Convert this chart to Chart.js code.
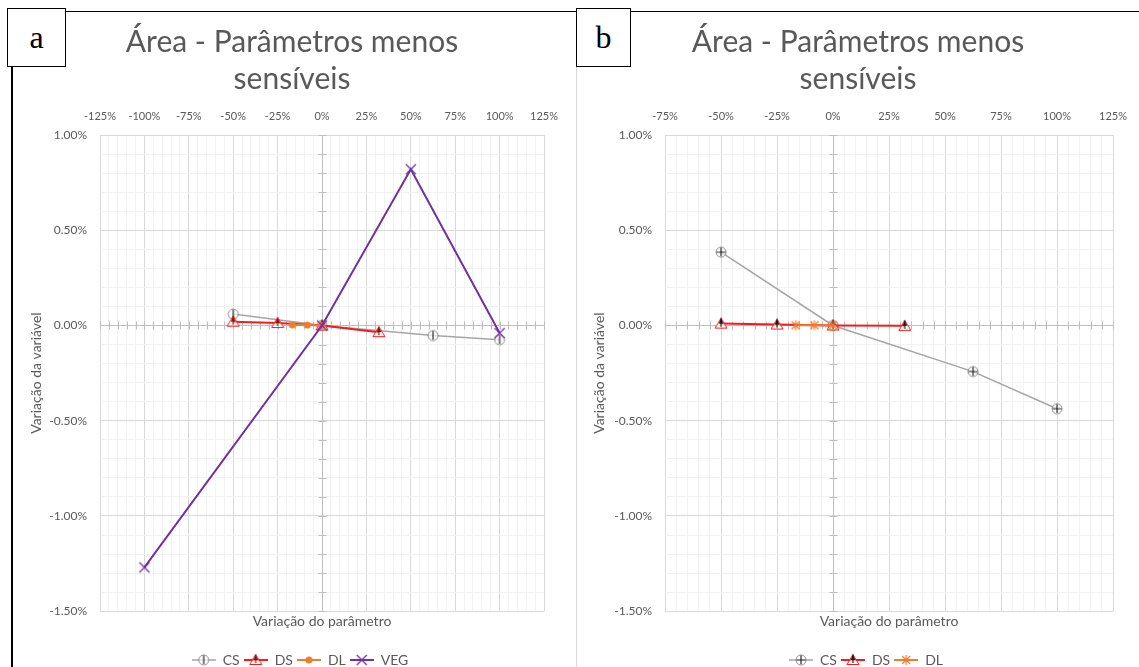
<!DOCTYPE html>
<html>
<head>
<meta charset="utf-8">
<script src="https://cdn.jsdelivr.net/npm/chart.js@4.4.1/dist/chart.umd.min.js"></script>
<style>
  body { margin: 0; background: #fff; width: 1139px; height: 667px; position: relative; overflow: hidden; }
  .wrap { position: absolute; top: 14px; height: 663px; }
  #wrapA { left: 15px; width: 555px; }
  #wrapB { left: 533px; width: 606px; }
  .rule { position: absolute; }
  .tag { position: absolute; top: 8px; height: 59px; background: #fff; border: 1.5px solid #000;
         font-family: 'Liberation Serif', 'DejaVu Serif', serif; font-size: 32px; color: #000;
         display: flex; align-items: center; justify-content: center; z-index: 5; box-sizing: border-box; }
</style>
</head>
<body>
<div class="rule" style="left:60px;top:11px;width:1079px;border-top:1.5px solid #000"></div>
<div class="rule" style="left:11px;top:66px;height:601px;border-left:2px solid #000"></div>
<div class="rule" style="left:576px;top:66px;height:601px;border-left:1px solid #d9d9d9"></div>
<div class="wrap" id="wrapA"><canvas id="chartA"></canvas></div>
<div class="wrap" id="wrapB"><canvas id="chartB"></canvas></div>
<div class="tag" style="left:7px;width:59px;">a</div>
<div class="tag" style="left:576px;width:55px;">b</div>
<script>
// --- data (percent units) ---
const chartTitle = ['Área - Parâmetros menos', 'sensíveis'];
const xAxisTitle = 'Variação do parâmetro';
const yAxisTitle = 'Variação da variável';

// panel a
const csA_x = [-50, 0, 62.5, 100];
const csA_y = [0.06, 0, -0.053, -0.075];
const dsA_x = [-50, -25, 0, 32];
const dsA_y = [0.02, 0.013, 0, -0.035];
const dlA_x = [-16.7, -8.3, 0];
const dlA_y = [0.003, 0.002, 0];
const vegA_x = [-100, 0, 50, 100];
const vegA_y = [-1.27, 0, 0.82, -0.04];

// panel b
const csB_x = [-50, 0, 62.5, 100];
const csB_y = [0.385, 0, -0.242, -0.437];
const dsB_x = [-50, -25, 0, 32];
const dsB_y = [0.01, 0.005, 0, -0.002];
const dlB_x = [-16.7, -8.3, 0];
const dlB_y = [0.001, 0.001, 0];

// axis ranges
const xRangeA = [-125, 125];
const xRangeB = [-75, 125];
const yRange = [-1.5, 1.0];

const TEXT = '#595959';
Chart.defaults.font.family = "Lato, 'Open Sans', sans-serif";
Chart.defaults.color = TEXT;

const pts = (xs, ys) => xs.map((x, i) => ({ x: x, y: ys[i] }));
const isMult = (v, step) => Math.abs(v / step - Math.round(v / step)) < 1e-6;

// --- marker drawing ---
const COLORS = { CS: '#A5A5A5', DS: '#F21D1D', DL: '#ED7D31', VEG: '#7030A0' };

const drawCircle = (full) => (g, cx, cy) => {
    g.beginPath(); g.arc(cx, cy, 5, 0, 2 * Math.PI);
    g.fillStyle = 'rgba(255,255,255,0.7)'; g.fill();
    g.strokeStyle = '#8C8C8C'; g.lineWidth = 1; g.stroke();
    g.strokeStyle = '#262626'; g.lineWidth = 1.2;
    g.beginPath(); g.moveTo(cx, cy - 4.5); g.lineTo(cx, cy + 4);
    if (full) { g.moveTo(cx - 4.5, cy); g.lineTo(cx + 4.5, cy); }
    g.stroke();
};
const drawTriangle = (inner) => (g, cx, cy) => {
    g.beginPath(); g.moveTo(cx, cy - 5.5); g.lineTo(cx + 6, cy + 4.5); g.lineTo(cx - 6, cy + 4.5); g.closePath();
    g.fillStyle = 'rgba(255,255,255,0.6)'; g.fill();
    g.strokeStyle = COLORS.DS; g.lineWidth = 1; g.stroke();
    g.fillStyle = inner; g.strokeStyle = inner;
    g.beginPath(); g.moveTo(cx, cy - 5.5); g.lineTo(cx + 2.4, cy); g.lineTo(cx - 2.4, cy); g.closePath(); g.fill();
    g.lineWidth = 1.2; g.beginPath(); g.moveTo(cx, cy - 5.5); g.lineTo(cx, cy + 3); g.stroke();
};
const drawDot = (g, cx, cy) => {
    g.beginPath(); g.arc(cx, cy, 3.5, 0, 2 * Math.PI); g.fillStyle = COLORS.DL; g.fill();
};
const drawStar = (g, cx, cy) => {
    g.strokeStyle = COLORS.DL; g.lineWidth = 1.2; g.beginPath();
    g.moveTo(cx - 4, cy - 4); g.lineTo(cx + 4, cy + 4);
    g.moveTo(cx + 4, cy - 4); g.lineTo(cx - 4, cy + 4);
    g.moveTo(cx, cy - 5); g.lineTo(cx, cy + 5);
    g.stroke();
};
const drawCross = (g, cx, cy) => {
    g.strokeStyle = COLORS.VEG; g.lineWidth = 1.3; g.beginPath();
    g.moveTo(cx - 5, cy - 5); g.lineTo(cx + 5, cy + 5);
    g.moveTo(cx + 5, cy - 5); g.lineTo(cx - 5, cy + 5);
    g.stroke();
};

const makeIcon = (w, h, draw, line) => {
    const c = document.createElement('canvas');
    c.width = w; c.height = h;
    const g = c.getContext('2d');
    if (line) {
        g.strokeStyle = line.color; g.lineWidth = line.width;
        g.beginPath(); g.moveTo(0, h / 2); g.lineTo(w, h / 2); g.stroke();
    }
    draw(g, w / 2, h / 2);
    return c;
};

const series = (label, data, draw, width, order) => ({
    label: label,
    data: data,
    showLine: true,
    tension: 0,
    borderColor: COLORS[label],
    borderWidth: width,
    pointStyle: makeIcon(14, 14, draw),
    pointRadius: 5,
    pointHoverRadius: 5,
    order: order,
    legendIcon: makeIcon(24, 14, draw, { color: COLORS[label], width: width })
});

// zero axes with cross tick marks
const zeroAxes = {
    id: 'zeroAxes',
    beforeDatasetsDraw(chart) {
        const { ctx, chartArea: a, scales: { x, y } } = chart;
        const x0 = Math.round(x.getPixelForValue(0)) + 0.5;
        const y0 = Math.round(y.getPixelForValue(0)) + 0.5;
        ctx.save();
        ctx.strokeStyle = '#BFBFBF';
        ctx.lineWidth = 1;
        ctx.beginPath();
        ctx.moveTo(a.left, y0); ctx.lineTo(a.right, y0);
        ctx.moveTo(x0, a.top); ctx.lineTo(x0, a.bottom);
        x.ticks.forEach(t => {
            const px = Math.round(x.getPixelForValue(t.value)) + 0.5;
            ctx.moveTo(px, y0 - 4); ctx.lineTo(px, y0 + 4);
        });
        y.ticks.forEach(t => {
            const py = Math.round(y.getPixelForValue(t.value)) + 0.5;
            ctx.moveTo(x0 - 4, py); ctx.lineTo(x0 + 4, py);
        });
        ctx.stroke();
        ctx.restore();
    }
};

// nudge title / legend sideways (Excel centres them over the whole chart box)
const blockShift = {
    id: 'blockShift',
    afterLayout(chart, args, opts) {
        const move = (box, dx) => { if (box && dx) { box.left += dx; box.right += dx; } };
        move(chart.titleBlock, opts.titleDx);
        move(chart.legend, opts.legendDx);
    }
};

const makeChart = (id, datasets, xRange, yWidth, yTitlePad, rightPad, titleDx, legendDx) => {
    new Chart(document.getElementById(id), {
        type: 'scatter',
        data: { datasets: datasets },
        plugins: [zeroAxes, blockShift],
        options: {
            responsive: true,
            maintainAspectRatio: false,
            animation: false,
            layout: { padding: { left: 0, right: rightPad, top: 0, bottom: 0 } },
            plugins: {
                blockShift: { titleDx: titleDx, legendDx: legendDx },
                title: {
                    display: true,
                    text: chartTitle,
                    color: TEXT,
                    font: { size: 30, weight: 'normal', lineHeight: 1.23 },
                    padding: { top: 10, bottom: 0 }
                },
                legend: {
                    position: 'bottom',
                    labels: {
                        usePointStyle: true,
                        pointStyleWidth: 24,
                        boxHeight: 14,
                        padding: 4,
                        color: TEXT,
                        font: { size: 14 },
                        generateLabels: (chart) => chart.data.datasets.map((ds, i) => ({
                            text: ds.label,
                            pointStyle: ds.legendIcon,
                            fillStyle: 'transparent',
                            strokeStyle: 'transparent',
                            lineWidth: 0,
                            fontColor: TEXT,
                            hidden: false,
                            datasetIndex: i
                        }))
                    }
                },
                tooltip: { enabled: false }
            },
            scales: {
                x: {
                    type: 'linear',
                    position: 'top',
                    min: xRange[0],
                    max: xRange[1],
                    border: { display: false },
                    grid: {
                        drawTicks: false,
                        color: (c) => isMult(c.tick.value, 25) ? '#D9D9D9' : '#F2F2F2'
                    },
                    ticks: {
                        stepSize: 5,
                        autoSkip: false,
                        maxRotation: 0,
                        padding: 12,
                        font: { size: 11 },
                        callback: (v) => isMult(v, 25) ? v + '%' : ''
                    }
                },
                xb: {
                    type: 'linear',
                    position: 'bottom',
                    min: xRange[0],
                    max: xRange[1],
                    border: { display: false },
                    grid: { display: false, drawTicks: false },
                    ticks: { display: false },
                    title: {
                        display: true,
                        text: xAxisTitle,
                        color: TEXT,
                        font: { size: 14 },
                        padding: { top: 2, bottom: 19 }
                    }
                },
                y: {
                    type: 'linear',
                    min: yRange[0],
                    max: yRange[1],
                    border: { display: false },
                    afterFit: (s) => { s.width = yWidth; },
                    grid: {
                        drawTicks: false,
                        color: (c) => isMult(c.tick.value, 0.5) ? '#D9D9D9' : '#F2F2F2'
                    },
                    ticks: {
                        stepSize: 0.1,
                        autoSkip: false,
                        padding: 13,
                        font: { size: 12 },
                        callback: (v) => isMult(v, 0.5) ? v.toFixed(2) + '%' : ''
                    },
                    title: {
                        display: true,
                        text: yAxisTitle,
                        color: TEXT,
                        font: { size: 14 },
                        padding: { top: yTitlePad, bottom: 0 }
                    }
                }
            }
        }
    });
};

makeChart('chartA', [
    series('CS', pts(csA_x, csA_y), drawCircle(false), 1.5, 4),
    series('DS', pts(dsA_x, dsA_y), drawTriangle('#8B1010'), 2, 3),
    series('DL', pts(dlA_x, dlA_y), drawDot, 2, 2),
    series('VEG', pts(vegA_x, vegA_y), drawCross, 2, 1)
], xRangeA, 85, 13, 23, 11, 19);

makeChart('chartB', [
    series('CS', pts(csB_x, csB_y), drawCircle(true), 1.5, 4),
    series('DS', pts(dsB_x, dsB_y), drawTriangle('#1A1A1A'), 2, 3),
    series('DL', pts(dlB_x, dlB_y), drawStar, 2, 2)
], xRangeB, 132, 58, 16, 30, 38);
</script>
</body>
</html>
